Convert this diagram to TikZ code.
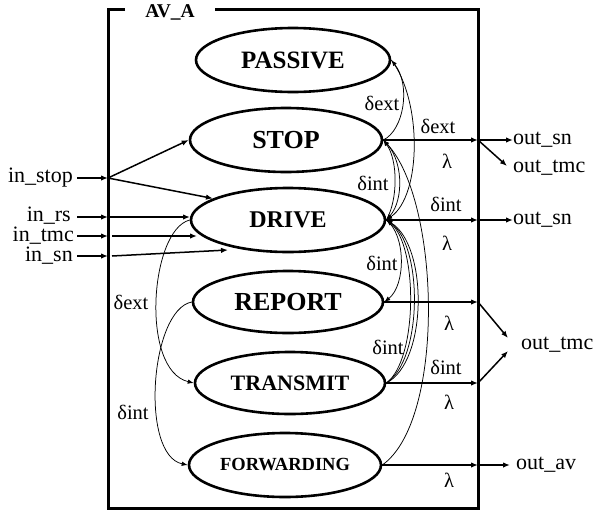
\documentclass[tikz,border=0pt]{standalone}
\usepackage{fontspec}
\setmainfont{Liberation Serif}
\usetikzlibrary{shapes.geometric,arrows.meta}
\begin{document}
\begin{tikzpicture}[x=1pt,y=-1pt,
  state/.style={ellipse,draw,line width=2.6pt,inner sep=0pt,font=\bfseries},
  port/.style={font=\fontsize{22}{24}\selectfont,inner sep=0pt},
  tr/.style={font=\fontsize{20.5}{22}\selectfont,inner sep=0pt},
  arr/.style={line width=1.5pt,-{Latex[length=7pt,width=5.5pt]}},
  thin arr/.style={line width=0.75pt,-{Latex[length=6pt,width=4.5pt]}}]
\useasboundingbox (0,0) rectangle (595,512);

% coupled model frame with its title
\draw[line width=3pt] (125,9) -- (108,9) -- (108,508) -- (478,508) -- (478,9) -- (215,9);
\node[font=\bfseries\fontsize{19.5}{21}\selectfont,inner sep=0pt] (title) at (170,12) {AV\_A};

% states
\node[state,minimum width=194pt,minimum height=64pt,font=\bfseries\fontsize{25}{27}\selectfont] (P) at (293,60) {PASSIVE};
\node[state,minimum width=192pt,minimum height=64pt,font=\bfseries\fontsize{26}{28}\selectfont] (S) at (286,140) {STOP};
\node[state,minimum width=194pt,minimum height=64pt,font=\bfseries\fontsize{24}{26}\selectfont] (D) at (288,220) {DRIVE};
\node[state,minimum width=190pt,minimum height=62pt,font=\bfseries\fontsize{26}{28}\selectfont] (R) at (288,302) {REPORT};
\node[state,minimum width=190pt,minimum height=62pt,font=\bfseries\fontsize{22}{24}\selectfont] (T) at (290,383) {TRANSMIT};
\node[state,minimum width=192pt,minimum height=64pt,font=\bfseries\fontsize{18.5}{20}\selectfont] (F) at (285,465) {FORWARDING};

% input ports
\node[port,anchor=east] (istop) at (73,178) {in\_stop};
\node[port,anchor=east] (irs) at (71,216) {in\_rs};
\node[port,anchor=east] (itmc) at (74,236) {in\_tmc};
\node[port,anchor=east] (isn) at (73,256) {in\_sn};

\coordinate (lstop) at (108,178);
\coordinate (lrs) at (108,217);
\coordinate (ltmc) at (108,236);
\coordinate (lsn) at (108,256);
\coordinate (krs) at (190,217);
\coordinate (ktmc0) at (112,236);
\coordinate (ktmc) at (197,236);
\coordinate (ksn0) at (112,256);
\coordinate (ksn) at (228,250);

\draw[arr] (istop.east) ++(4,0) -- (lstop);
\draw[arr] (irs.east) ++(6,1) -- (lrs);
\draw[arr] (itmc.east) ++(3,0) -- (ltmc);
\draw[arr] (isn.east) ++(4,0) -- (lsn);

\draw[arr] (lstop) -- (S.west);
\draw[arr] (lstop) -- (D.164);
\draw[arr] (lrs) -- (krs);
\draw[arr] (ktmc0) -- (ktmc);
\draw[arr] (ksn0) -- (ksn);

% output ports
\coordinate (bS) at (478,140);
\coordinate (bD) at (478,220);
\coordinate (bR) at (478,302);
\coordinate (bT) at (478,383);
\coordinate (bF) at (478,465);
\node[port,anchor=west] (osn1) at (513,140) {out\_sn};
\node[port,anchor=west] (otmc1) at (513,168) {out\_tmc};
\node[port,anchor=west] (osn2) at (513,220) {out\_sn};
\node[port,anchor=west] (otmc2) at (521,345) {out\_tmc};
\node[port,anchor=west] (oav) at (516,465) {out\_av};
\coordinate (tipR) at (508,338);
\coordinate (tipT) at (508,351);

\draw[arr] (S.east) -- (bS);
\draw[arr] (D.east) -- (bD);
\draw[arr] (R.east) -- (bR);
\draw[arr] (T.east) -- (bT);
\draw[arr] (F.east) -- (bF);

\draw[arr] (bS) -- (osn1.west);
\draw[arr] (bS) -- ([xshift=-6pt,yshift=2pt]otmc1.west);
\draw[arr] (bD) -- (osn2.west);
\draw[arr] (bR) -- (tipR);
\draw[arr] (bT) -- (tipT);
\draw[arr] (bF) -- ([xshift=-6pt]oav.west);

% transitions on the right side
\draw[thin arr] (S.east) .. controls (404,130) and (411,85) .. (P.east);
\draw[thin arr] (P.east) .. controls (422,100) and (422,195) .. (D.east);
\draw[thin arr] (S.east) .. controls (404,158) and (404,200) .. (D.east);
\draw[thin arr] (D.east) .. controls (398,200) and (398,160) .. (S.east);
\draw[thin arr] (F.east) .. controls (446,420) and (440,200) .. (S.east);
\draw[thin arr] (D.east) .. controls (406,235) and (406,285) .. (R.east);
\draw[thin arr] (T.east) .. controls (418,360) and (418,245) .. (D.east);
\draw[thin arr] (T.east) .. controls (423,360) and (423,245) .. (D.east);
\draw[thin arr] (T.east) .. controls (428,362) and (428,245) .. (D.east);

% transitions on the left side
\draw[thin arr] (D.west) .. controls (150,230) and (140,370) .. (T.west);
\draw[thin arr] (R.west) .. controls (150,310) and (140,455) .. (F.west);

% transition and output labels
\node[tr] (l1) at (382,103) {δext};
\node[tr] (l2) at (438,126) {δext};
\node[tr] (l3) at (447,161) {λ};
\node[tr] (l4) at (373,183) {δint};
\node[tr] (l5) at (446,204) {δint};
\node[tr] (l6) at (447,243) {λ};
\node[tr] (l7) at (382,263) {δint};
\node[tr] (l8) at (449,323) {λ};
\node[tr] (l9) at (388,347) {δint};
\node[tr] (l10) at (446,367) {δint};
\node[tr] (l11) at (449,402) {λ};
\node[tr] (l12) at (449,480) {λ};
\node[tr] (l13) at (131,302) {δext};
\node[tr] (l14) at (133,412) {δint};
\end{tikzpicture}
\end{document}
